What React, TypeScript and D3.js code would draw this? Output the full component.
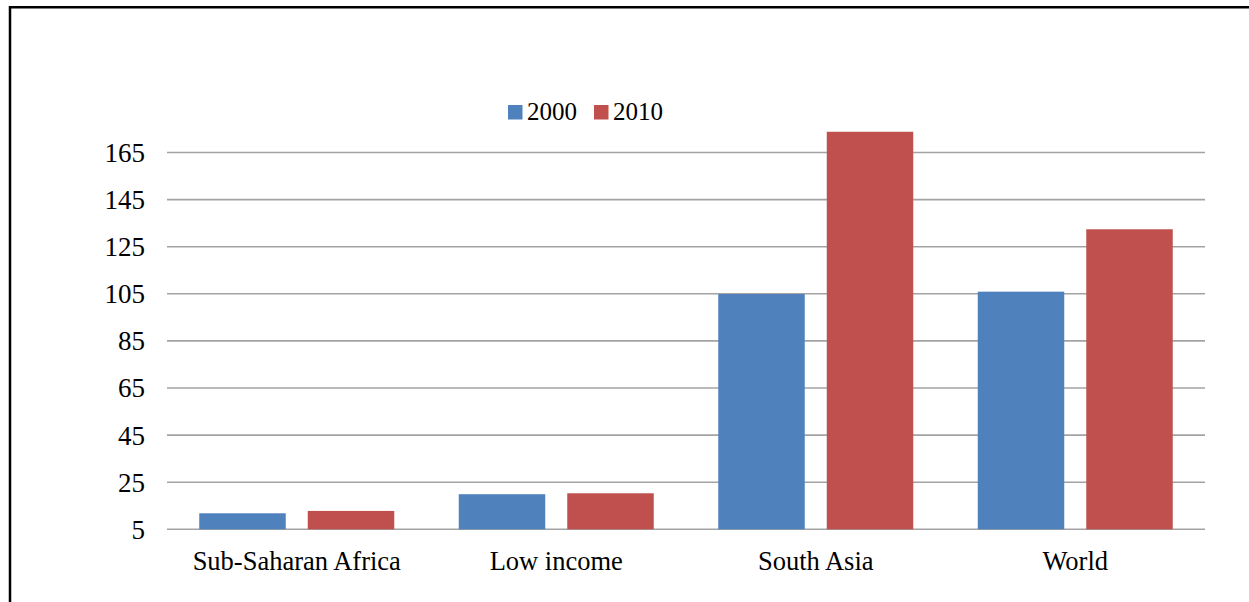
import React from "react";
import * as d3 from "d3";

const categories = ["Sub-Saharan Africa", "Low income", "South Asia", "World"];
const seriesNames = ["2000", "2010"];
const values2000 = [11.8, 19.9, 104.9, 105.9];
const values2010 = [12.8, 20.3, 173.8, 132.4];
const yTicks = [5, 25, 45, 65, 85, 105, 125, 145, 165];
const colors = ["#4F81BD", "#C0504D"];

const W = 1249;
const H = 602;
const FONT = "'Liberation Serif', 'Times New Roman', serif";

export default function App() {
  const left = 167;
  const right = 1205;
  const y = d3.scaleLinear().domain([5, 165]).range([529.3, 152.5]);
  const x0 = d3.scaleBand<string>().domain(categories).range([left, right]).padding(0);
  const groupPad = 32.25;
  const x1 = d3
    .scaleBand<string>()
    .domain(seriesNames)
    .range([groupPad, x0.bandwidth() - groupPad])
    .paddingInner(0.2028)
    .paddingOuter(0);
  const series = [values2000, values2010];

  return (
    <svg
      width={W}
      height={H}
      style={{ position: "absolute", left: 0, top: 0, background: "#fff" }}
    >
      <rect x={0} y={0} width={W} height={H} fill="#fff" />
      {/* frame */}
      <path d={`M10,${H + 5} L10,7.2 L${W + 5},7.2`} fill="none" stroke="#000" strokeWidth={2.5} />

      {/* gridlines */}
      {yTicks.map((t) => (
        <line key={t} x1={left} x2={right} y1={y(t)} y2={y(t)} stroke="#a3a3a3" strokeWidth={1.6} />
      ))}

      {/* y tick labels */}
      {yTicks.map((t) => (
        <text
          key={"l" + t}
          x={145}
          y={y(t)}
          dy="0.35em"
          textAnchor="end"
          fontFamily={FONT}
          fontSize={27}
          fill="#000"
        >
          {t}
        </text>
      ))}

      {/* bars */}
      {categories.map((c, i) => (
        <g key={c} transform={`translate(${x0(c)},0)`}>
          {seriesNames.map((s, j) => (
            <rect
              key={s}
              x={x1(s)}
              y={y(series[j][i])}
              width={x1.bandwidth()}
              height={y(5) - y(series[j][i])}
              fill={colors[j]}
            />
          ))}
        </g>
      ))}

      {/* category labels */}
      {categories.map((c) => (
        <text
          key={"c" + c}
          x={(x0(c) as number) + x0.bandwidth() / 2}
          y={570}
          textAnchor="middle"
          fontFamily={FONT}
          fontSize={26.5}
          fill="#000"
        >
          {c}
        </text>
      ))}

      {/* legend */}
      {seriesNames.map((s, j) => {
        const lx = [508, 594][j];
        return (
          <g key={"lg" + s}>
            <rect x={lx} y={105} width={14.5} height={14.5} fill={colors[j]} />
            <text x={lx + 19} y={120} fontFamily={FONT} fontSize={25} fill="#000">
              {s}
            </text>
          </g>
        );
      })}
    </svg>
  );
}
